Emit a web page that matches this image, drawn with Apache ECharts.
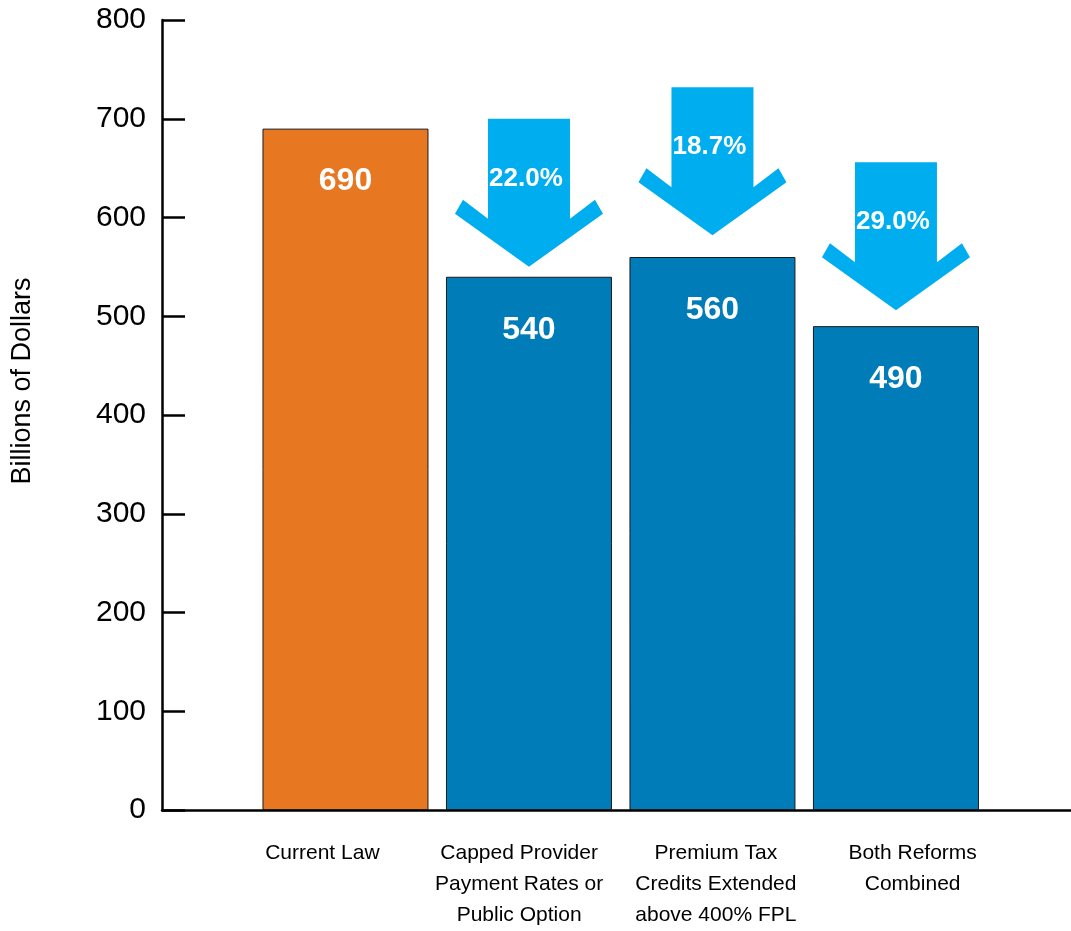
<!DOCTYPE html>
<html>
<head>
<meta charset="utf-8">
<script src="https://cdn.jsdelivr.net/npm/echarts@6/dist/echarts.min.js"></script>
<style>
  html, body { margin: 0; padding: 0; background: #fff; }
  #main { width: 1071px; height: 931px; }
</style>
</head>
<body>
<div id="main"></div>
<script>
// 数据
var categories = ['Current Law', 'Capped Provider\nPayment Rates or\nPublic Option', 'Premium Tax\nCredits Extended\nabove 400% FPL', 'Both Reforms\nCombined'];
var spending = [690, 540, 560, 490];
var barColors = ['#E87722', '#007DB8', '#007DB8', '#007DB8'];

// 箭头 (下降百分比)
var arrowSlots = [2, 3, 4];
var arrowTops = [700, 732, 656];
var arrowLabels = ['22.0%', '18.7%', '29.0%'];

var FONT = 'Liberation Sans, Arial, sans-serif';

var barData = spending.map(function (v, i) {
    return { value: [i + 1, v], itemStyle: { color: barColors[i] } };
});
var arrowData = arrowSlots.map(function (s, i) {
    return [s, arrowTops[i]];
});

// arrow outline, px relative to the top centre
var arrowShape = [[-41, 0], [41, 0], [41, 100], [66, 81], [74, 95], [0, 148], [-74, 95], [-66, 81], [-41, 100]];

var mycharts = echarts.init(document.getElementById('main'));

mycharts.setOption({
    animation: false,
    grid: [
        { left: 162, right: 0, top: 20, bottom: 121 },
        { left: 224, width: 787, top: 20, bottom: 121 }
    ],
    xAxis: [
        {
            type: 'value',
            gridIndex: 0,
            min: 0,
            max: 4.954,
            axisLine: { show: true, lineStyle: { color: '#000', width: 2.5 } },
            axisTick: { show: false },
            axisLabel: { show: false },
            splitLine: { show: false }
        },
        {
            type: 'category',
            gridIndex: 1,
            data: categories,
            axisLine: { show: false },
            axisTick: { show: false },
            axisLabel: {
                margin: 38,
                color: '#000',
                fontSize: 21,
                lineHeight: 31,
                fontFamily: FONT,
                interval: 0
            }
        }
    ],
    yAxis: [
        {
            type: 'value',
            gridIndex: 0,
            min: 0,
            max: 800,
            interval: 100,
            name: 'Billions of Dollars',
            nameLocation: 'middle',
            nameGap: 126,
            nameTextStyle: { color: '#000', fontSize: 27, fontFamily: FONT, padding: [0, 0, 0, 68] },
            axisLine: { show: true, lineStyle: { color: '#000', width: 2.5 } },
            axisTick: { show: true, inside: true, length: 23, lineStyle: { color: '#000', width: 2.5 } },
            axisLabel: { color: '#000', fontSize: 30, fontFamily: FONT, margin: 16, padding: [10, 0, 0, 0] },
            splitLine: { show: false }
        },
        {
            type: 'value',
            gridIndex: 1,
            min: 0,
            max: 800,
            show: false
        }
    ],
    series: [
        {
            type: 'bar',
            xAxisIndex: 0,
            yAxisIndex: 0,
            barWidth: 166,
            data: barData,
            itemStyle: { borderColor: '#1a1a1a', borderWidth: 1 },
            label: {
                show: true,
                position: 'insideTop',
                distance: 37,
                color: '#fff',
                fontSize: 32,
                fontWeight: 'bold',
                fontFamily: FONT
            }
        },
        {
            type: 'custom',
            xAxisIndex: 0,
            yAxisIndex: 0,
            data: arrowData,
            z: 5,
            renderItem: function (params, api) {
                var top = api.coord([api.value(0), api.value(1)]);
                var cx = top[0], y0 = top[1];
                var pts = arrowShape.map(function (p) { return [cx + p[0], y0 + p[1]]; });
                return {
                    type: 'group',
                    children: [
                        { type: 'polygon', shape: { points: pts }, style: { fill: '#00AEEF' } },
                        {
                            type: 'text',
                            x: cx - 3,
                            y: y0 + 60,
                            style: {
                                text: arrowLabels[params.dataIndex],
                                fill: '#fff',
                                font: 'bold 26px ' + FONT,
                                align: 'center',
                                verticalAlign: 'middle'
                            }
                        }
                    ]
                };
            }
        }
    ]
});
</script>
</body>
</html>
